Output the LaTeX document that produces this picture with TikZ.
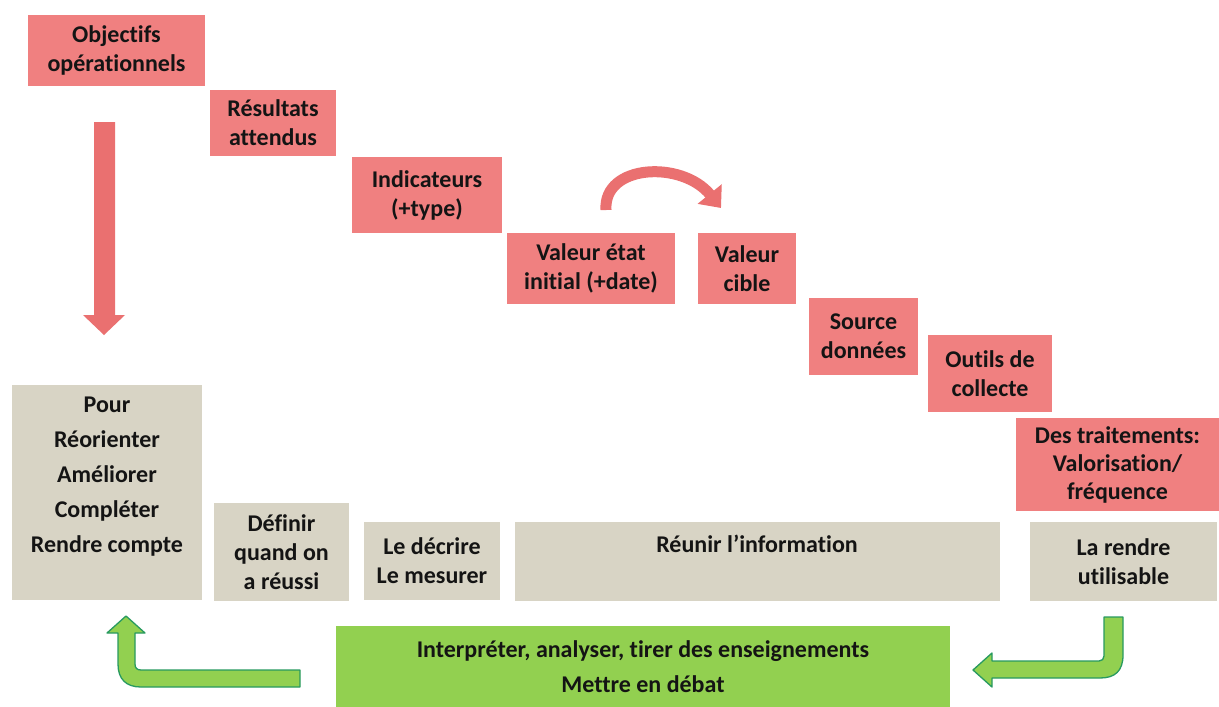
\documentclass[tikz,border=0pt]{standalone}
\usepackage{fontspec}
\setmainfont[Ligatures={NoCommon}]{Carlito}
\usetikzlibrary{arrows.meta}
\definecolor{pinkbox}{RGB}{240,128,128}
\definecolor{beigebox}{RGB}{216,212,197}
\definecolor{greenbox}{RGB}{146,208,80}
\definecolor{greenline}{RGB}{40,154,96}
\definecolor{arrowred}{RGB}{234,112,112}
\definecolor{txt}{RGB}{20,20,20}
\begin{document}
\begin{tikzpicture}[x=1pt,y=-1pt,
  box/.style={inner sep=0pt, outer sep=0pt, align=center, anchor=north west,
    font=\fontsize{24}{29}\selectfont\bfseries, text=txt},
  redbox/.style={box, fill=pinkbox},
  graybox/.style={box, fill=beigebox},
  greenrect/.style={box, fill=greenbox},
  plaintxt/.style={inner sep=0pt, align=center, font=\fontsize{24}{29}\selectfont\bfseries, text=txt},
  blockarrow/.style={fill=greenbox, draw=greenline, line width=1.3pt, line join=round}]
\fill[white] (0,0) rectangle (1219,707);
\useasboundingbox (0,0) rectangle (1219,707);

% red boxes
\node[redbox, minimum width=177pt, minimum height=71pt] (obj) at (28,15) {Objectifs\\opérationnels};
\node[redbox, minimum width=126pt, minimum height=66pt] (res) at (210,90) {Résultats\\attendus};
\node[redbox, minimum width=150pt, minimum height=76pt] (ind) at (352,157) {Indicateurs\\(+type)};
\node[redbox, minimum width=168pt, minimum height=71pt] (vei) at (507,233) {Valeur état\\initial (+date)};
\node[redbox, minimum width=98pt, minimum height=71pt] (vc) at (698,233) {Valeur\\cible};
\node[redbox, minimum width=109pt, minimum height=77pt] (src) at (809,298) {Source\\données};
\node[redbox, minimum width=124pt, minimum height=77pt] (out) at (928,335) {Outils de\\collecte};
\node[redbox, minimum width=203pt, minimum height=93pt, font=\fontsize{24}{28}\selectfont\bfseries] (trt) at (1016,418) {Des traitements:\\Valorisation/\\fréquence};

% gray boxes
\node[graybox, minimum width=190pt, minimum height=215pt] (pour) at (12,385) {};
\node[plaintxt, font=\fontsize{24}{35}\selectfont\bfseries] (pourtxt) at (107,477) {Pour\\Réorienter\\Améliorer\\Compléter\\Rendre compte};
\node[graybox, minimum width=135pt, minimum height=98pt] (def) at (214,503) {Définir\\quand on\\a réussi};
\node[graybox, minimum width=136pt, minimum height=78pt] (dec) at (364,522) {Le décrire\\Le mesurer};
\node[graybox, minimum width=485pt, minimum height=79pt] (reu) at (515,522) {};
\node[plaintxt] (reutxt) at (757,544) {Réunir l’information};
\node[graybox, minimum width=187pt, minimum height=79pt] (ren) at (1030,522) {La rendre\\utilisable};

% green box
\node[greenrect, minimum width=614pt, minimum height=81pt, font=\fontsize{24}{35}\selectfont\bfseries] (gr) at (336,626) {Interpréter, analyser, tirer des enseignements\\Mettre en débat};

% red down arrow
\fill[arrowred] (94,122) -- (115,122) -- (115,315) -- (125,315) -- (104,335) -- (83,315) -- (94,315) -- cycle;

% red curved arrow from vei towards vc
\coordinate (cstart) at (606,210);
\coordinate (cend) at (721,208);
\draw[arrowred, line width=11pt, -{Triangle[length=18pt,width=30pt]}]
  (cstart) .. controls (603,164) and (682,160) .. (cend);

% green arrow left (from green box back up to Pour)
\draw[blockarrow] (300,670) -- (141,670) .. controls (137,670) and (135,668) .. (135,664)
  -- (135,633) -- (145,633) -- (126,616) -- (107,633) -- (118,633)
  -- (118,664) .. controls (118,679) and (126,687) .. (141,687) -- (300,687) -- cycle;

% green arrow right (from La rendre utilisable to green box)
\draw[blockarrow] (1104,617) -- (1123,617) -- (1123,655) .. controls (1123,671) and (1115,678) .. (1100,678)
  -- (992,678) -- (992,687) -- (973,670) -- (992,653) -- (992,661)
  -- (1099,661) .. controls (1102,661) and (1104,659) .. (1104,656) -- cycle;
\end{tikzpicture}
\end{document}
